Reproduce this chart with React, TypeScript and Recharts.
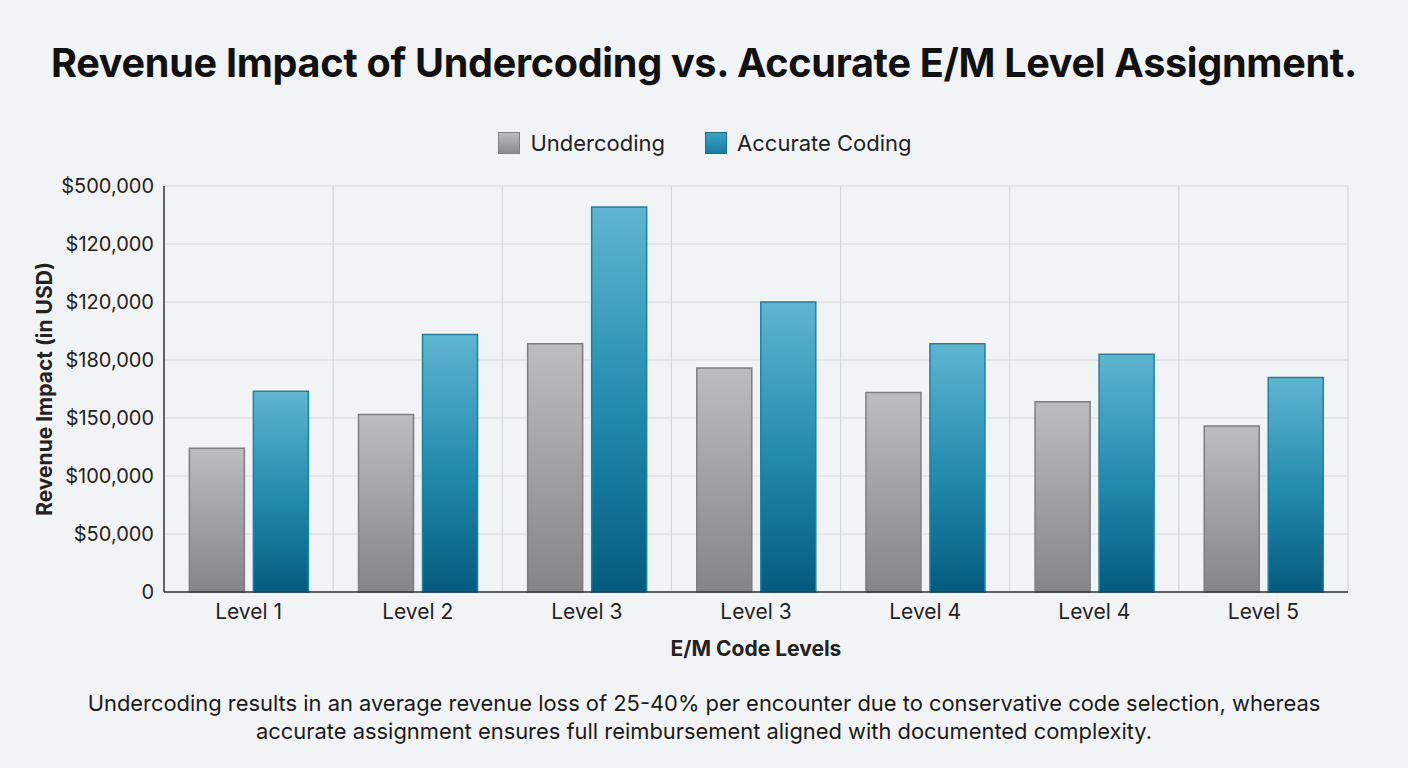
import { BarChart, Bar, XAxis, YAxis, CartesianGrid } from 'recharts';

const levels = ['Level 1', 'Level 2', 'Level 3', 'Level 3', 'Level 4', 'Level 4', 'Level 5'];
// values in chart units (one gridline step = 50)
const undercoding = [124, 153, 214, 193, 172, 164, 143];
const accurate = [173, 222, 332, 250, 214, 205, 185];
const yTicks = [0, 50, 100, 150, 200, 250, 300, 350];
const yTickLabels = ['0', '$50,000', '$100,000', '$150,000', '$180,000', '$120,000', '$120,000', '$500,000'];

const data = levels.map((level, i) => ({
  level,
  under: undercoding[i],
  acc: accurate[i],
}));

const FONT = 'Inter, "Noto Sans", sans-serif';

function LegendBox() {
  const item = (label: string, fill: string, stroke: string) => (
    <div style={{ display: 'flex', alignItems: 'center', marginRight: 40 }}>
      <div style={{ width: 20, height: 20, background: fill, border: `1.5px solid ${stroke}`, marginRight: 10 }} />
      <span style={{ fontSize: 22, color: '#222' }}>{label}</span>
    </div>
  );
  return (
    <div style={{ position: 'absolute', top: 130, left: 0, width: 1408, display: 'flex', justifyContent: 'center', paddingLeft: 42, boxSizing: 'border-box' }}>
      {item('Undercoding', 'linear-gradient(#bcbcbe, #8a8a8c)', '#808080')}
      {item('Accurate Coding', 'linear-gradient(#3aa3c4, #1a7fa2)', '#176f8e')}
    </div>
  );
}

export default function App() {
  return (
    <div style={{ position: 'absolute', left: 0, top: 0, width: 1408, height: 768, background: '#f2f3f5', fontFamily: FONT, overflow: 'hidden' }}>
      <div style={{ position: 'absolute', top: 39, width: '100%', textAlign: 'center', fontSize: 39.6, fontWeight: 700, color: '#111', letterSpacing: -0.3 }}>
        Revenue Impact of Undercoding vs. Accurate E/M Level Assignment.
      </div>
      <LegendBox />
      <BarChart
        width={1408}
        height={768}
        data={data}
        margin={{ top: 186, right: 60, bottom: 146, left: 0 }}
        barCategoryGap="15%"
        barGap={9}
        style={{ position: 'absolute', left: 0, top: 0 }}
      >
        <defs>
          <linearGradient id="gUnder" x1="0" y1="0" x2="0" y2="1">
            <stop offset="0%" stopColor="#bdbdbf" />
            <stop offset="100%" stopColor="#858587" />
          </linearGradient>
          <linearGradient id="gAcc" x1="0" y1="0" x2="0" y2="1">
            <stop offset="0%" stopColor="#5fb5d0" />
            <stop offset="55%" stopColor="#2089ac" />
            <stop offset="100%" stopColor="#055b7e" />
          </linearGradient>
        </defs>
        <CartesianGrid
          stroke="#d6d7da"
          strokeWidth={1.2}
          verticalCoordinatesGenerator={({ offset }: any) =>
            levels.map((_, i) => offset.left + ((i + 1) * offset.width) / levels.length)
          }
        />
        <XAxis
          dataKey="level"
          tickLine={false}
          axisLine={{ stroke: '#333', strokeWidth: 1.5 }}
          tick={{ fill: '#222', fontSize: 21, fontFamily: FONT }}
          tickMargin={6}
          label={{ value: 'E/M Code Levels', position: 'insideBottom', offset: -34, fill: '#222', fontSize: 21, fontWeight: 700, fontFamily: FONT }}
        />
        <YAxis
          width={164}
          domain={[0, 350]}
          ticks={yTicks}
          interval={0}
          tickLine={false}
          axisLine={{ stroke: '#333', strokeWidth: 1.5 }}
          tick={{ fill: '#222', fontSize: 20, fontFamily: FONT }}
          tickMargin={4}
          tickFormatter={(v: number) => yTickLabels[yTicks.indexOf(v)]}
          label={{
            content: ({ viewBox }: any) => (
              <text
                x={viewBox.x + 44}
                y={viewBox.y + viewBox.height / 2}
                transform={`rotate(-90, ${viewBox.x + 44}, ${viewBox.y + viewBox.height / 2})`}
                textAnchor="middle"
                dominantBaseline="central"
                fill="#222"
                fontSize={21}
                fontWeight={700}
                fontFamily={FONT}
              >
                Revenue Impact (in USD)
              </text>
            ),
          }}
        />
        <Bar dataKey="under" name="Undercoding" fill="url(#gUnder)" stroke="#7e7e80" strokeWidth={1.5} isAnimationActive={false} />
        <Bar dataKey="acc" name="Accurate Coding" fill="url(#gAcc)" stroke="#1784a5" strokeWidth={1.5} isAnimationActive={false} />
      </BarChart>
      <div style={{ position: 'absolute', top: 689, width: '100%', textAlign: 'center', fontSize: 21.9, lineHeight: '28px', color: '#1a1a1a' }}>
        Undercoding results in an average revenue loss of 25-40% per encounter due to conservative code selection, whereas
        <br />
        accurate assignment ensures full reimbursement aligned with documented complexity.
      </div>
    </div>
  );
}
